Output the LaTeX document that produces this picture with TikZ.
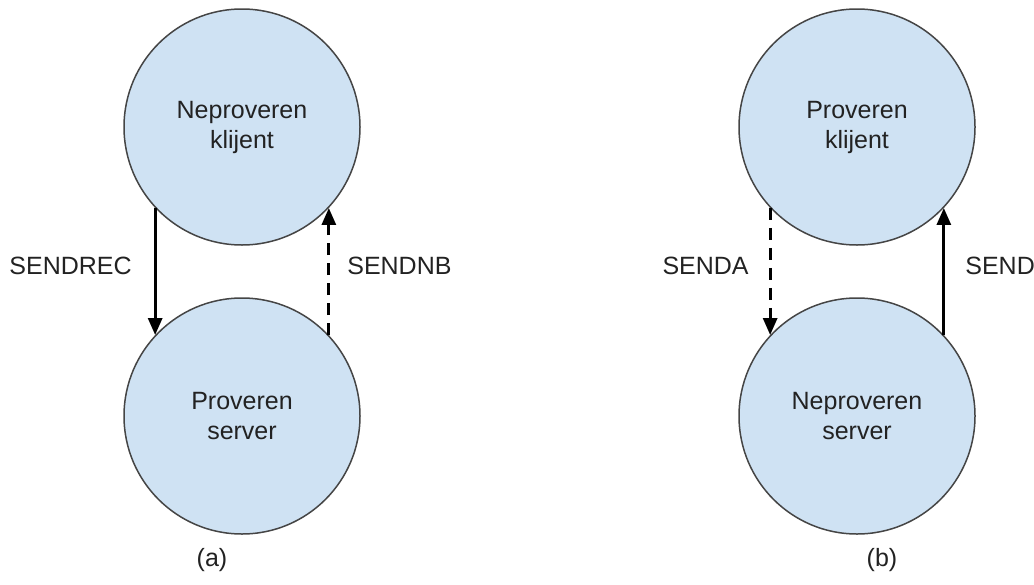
\documentclass[tikz,border=0pt]{standalone}
\usepackage{fontspec}
\setmainfont{Liberation Sans}
\usetikzlibrary{arrows.meta}
\definecolor{nodefill}{HTML}{CFE2F3}
\definecolor{nodeedge}{HTML}{454545}
\definecolor{txt}{HTML}{222222}
\begin{document}
\begin{tikzpicture}[x=1pt,y=-1pt,
  font=\fontsize{25}{30}\selectfont,
  state/.style={circle, draw=nodeedge, fill=nodefill, line width=1.5pt,
    minimum size=236pt, inner sep=0pt, align=center, text=txt},
  arr/.style={line width=3pt, draw=black, -{Triangle[length=17pt,width=14pt]}},
  dsh/.style={dash pattern=on 12pt off 8pt},
  lbl/.style={text=txt, inner sep=0pt}]
\useasboundingbox (0,0) rectangle (1034,584);
% (a)
\node[state] (ta) at (242,127) {Neproveren\\klijent};
\node[state] (ba) at (242,416) {Proveren\\server};
\draw[arr] (ta.223) -- node[lbl, left=22pt, yshift=6pt] (la1) {SENDREC} (ba.137);
\draw[arr, dsh] (ba.43) -- node[lbl, right=17pt, yshift=6pt] (la2) {SENDNB} (ta.-43);
\node[lbl] (capa) at (212,560) {(a)};
% (b)
\node[state] (tb) at (857,127) {Proveren\\klijent};
\node[state] (bb) at (857,416) {Neproveren\\server};
\draw[arr, dsh] (tb.223) -- node[lbl, left=20pt, yshift=6pt] (lb1) {SENDA} (bb.137);
\draw[arr] (bb.43) -- node[lbl, right=20pt, yshift=6pt] (lb2) {SEND} (tb.-43);
\node[lbl] (capb) at (882,560) {(b)};
\end{tikzpicture}
\end{document}
